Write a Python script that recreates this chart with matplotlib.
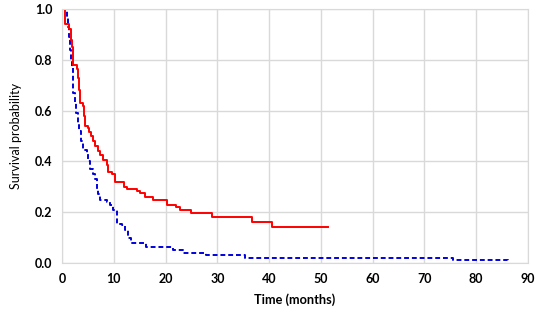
import matplotlib
matplotlib.use("Agg")
import matplotlib.pyplot as plt

plt.rcParams['font.family'] = ['Lato', 'DejaVu Sans']

# Kaplan-Meier steps (time in months, survival after step)
red_t = [0, 0.6, 1.4, 1.7, 1.9, 2.05, 2.2, 2.9, 3.1, 3.3, 3.5, 4.0, 4.2, 4.4, 5.0,
         5.3, 5.6, 6.0, 6.4, 6.9, 7.3, 8.0, 8.6, 8.9, 9.6, 10.2, 12.0, 12.6, 14.4,
         15.1, 16.0, 17.6, 20.3, 22.1, 22.8, 25.0, 28.9, 36.6, 40.5, 51.4]
red_s = [1.0, 0.94, 0.92, 0.88, 0.85, 0.81, 0.78, 0.765, 0.73, 0.68, 0.63, 0.62,
         0.58, 0.54, 0.53, 0.515, 0.50, 0.48, 0.46, 0.44, 0.425, 0.405, 0.385, 0.36,
         0.35, 0.32, 0.30, 0.29, 0.285, 0.275, 0.26, 0.248, 0.23, 0.22, 0.21, 0.195,
         0.18, 0.16, 0.14, 0.14]

blue_t = [0, 0.9, 1.1, 1.3, 1.5, 1.7, 1.9, 2.05, 2.2, 2.5, 2.8, 3.0, 3.2, 3.6, 4.1,
          4.8, 5.1, 5.4, 6.0, 6.4, 6.7, 7.0, 7.3, 8.6, 9.3, 9.9, 10.6, 11.6, 12.2,
          12.8, 13.4, 16.3, 21.5, 23.4, 27.9, 35.3, 75.5, 86.2]
blue_s = [1.0, 0.97, 0.93, 0.89, 0.84, 0.80, 0.77, 0.72, 0.67, 0.63, 0.59, 0.55,
          0.52, 0.48, 0.445, 0.43, 0.40, 0.37, 0.35, 0.33, 0.29, 0.27, 0.25, 0.24,
          0.23, 0.21, 0.155, 0.15, 0.13, 0.10, 0.08, 0.065, 0.05, 0.04, 0.03, 0.02,
          0.01, 0.0]

fig = plt.figure(figsize=(5.41, 3.12), dpi=100)
ax = fig.add_axes([0.1146, 0.157, 0.8614, 0.814])

ax.step(blue_t, blue_s, where='post', color='#0000DD', lw=1.4, ls=(0, (2.5, 1.5)))
ax.step(red_t, red_s, where='post', color='#FF0000', lw=1.4)

ax.set_xlim(0, 90)
ax.set_ylim(0, 1.0)
ax.set_xticks(range(0, 91, 10))
ax.set_yticks([0.0, 0.2, 0.4, 0.6, 0.8, 1.0])
ax.set_yticklabels(['0.0', '0.2', '0.4', '0.6', '0.8', '1.0'])
ax.grid(True, color='#d9d9d9', lw=1)
ax.set_axisbelow(True)
for sp in ax.spines.values():
    sp.set_color('#d9d9d9')
ax.tick_params(length=0, labelsize=9, pad=7)
for lab in ax.get_xticklabels() + ax.get_yticklabels():
    lab.set_fontweight('bold')

ax.set_xlabel('Time (months)', fontsize=9.2, fontweight='bold', labelpad=6)
ax.set_ylabel('Survival probability', fontsize=9, labelpad=9)

fig.savefig('out.png', dpi=100)
